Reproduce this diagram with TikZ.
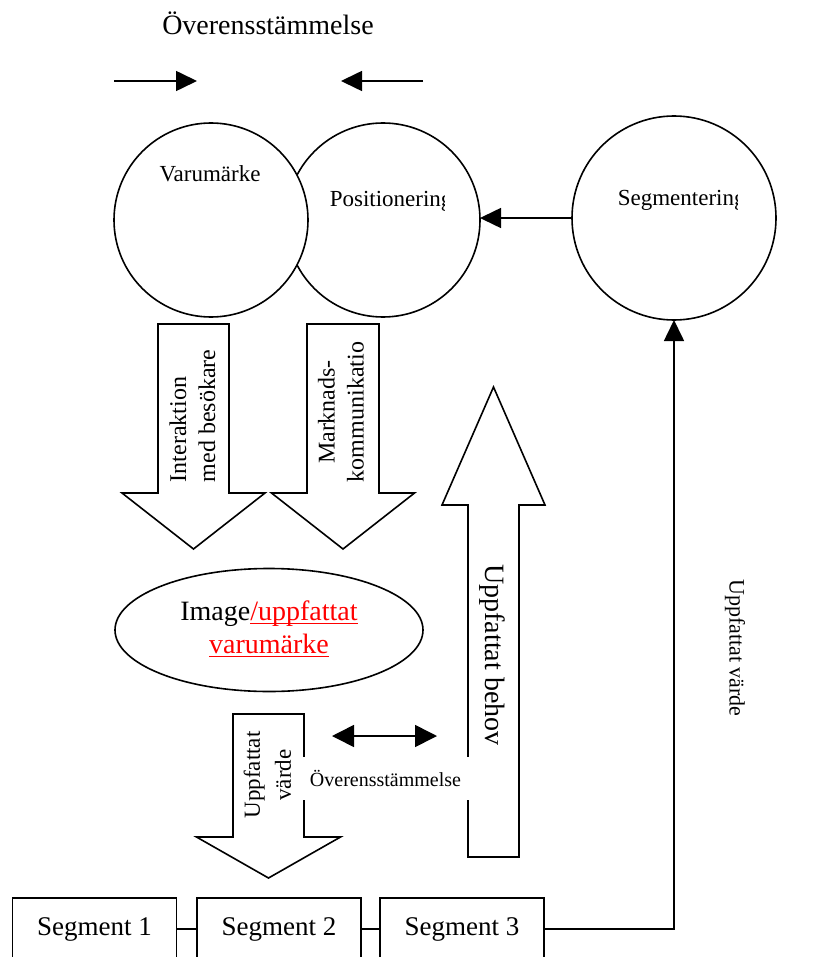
\documentclass[tikz,border=0pt]{standalone}
\usepackage{fontspec}
\setmainfont{Liberation Serif}
\usetikzlibrary{arrows.meta,shapes.geometric}
\newcommand\redul[1]{\textcolor{red}{\underline{\smash{#1}}}}
\tikzset{
  every picture/.style={line width=0.8pt},
  headed/.style={-{Triangle[length=10.5pt,width=10pt]}},
  circ/.style={draw,circle,inner sep=0pt,outer sep=0pt,minimum size=#1},
  fatarrow/.style={draw,line join=miter},
  segbox/.style={draw,fill=white,minimum width=82pt,minimum height=31pt,inner sep=0pt,outer sep=0pt,font=\fontsize{13.5}{16}\selectfont},
  uptext/.style={rotate=90,font=\fontsize{12}{14.5}\selectfont},
  downtext/.style={rotate=-90},
  circtext/.style={font=\fontsize{11.5}{14}\selectfont},
}

\begin{document}
\begin{tikzpicture}[x=0.5pt,y=-0.5pt]
\fill[white] (0,0) rectangle (820,957);
\clip (0,0) rectangle (820,957);
\node[font=\fontsize{14}{17}\selectfont] (agree) at (268,23) {Överensstämmelse};
\coordinate (l1) at (114,81);
\coordinate (l2) at (197,81);
\coordinate (r1) at (423,81);
\coordinate (r2) at (341,81);
\draw[headed] (l1) -- (l2);
\draw[headed] (r1) -- (r2);

\node[circ=97pt] (posit) at (383,220) {};
\node[circ=97pt,fill=white] (brand) at (211,220) {};
\node[circ=102pt] (segm) at (674,218) {};
\node[circtext] (brandtext) at (210,174) {Varumärke};
\begin{scope}
  \clip (320,185) rectangle (444,222);
  \node[circtext,anchor=west,inner sep=0pt] (posittext) at (329,201) {Positionering};
\end{scope}
\begin{scope}
  \clip (610,185) rectangle (737,222);
  \node[circtext,anchor=west,inner sep=0pt] (segmtext) at (617,200) {Segmentering};
\end{scope}
\draw[headed] (segm.west) -- (segm.west -| posit.east);

\foreach \cx/\ytail/\ybase/\ytip/\hs/\hh in {193.5/324/493/549/35.5/71.5, 343/324/493/549/36/71.5, 268.5/714/837/878/35.5/72, 493.5/857/505/387/25.5/51.5}
  \draw[fatarrow] (\cx-\hs,\ytail) -- (\cx-\hs,\ybase) -- (\cx-\hh,\ybase) -- (\cx,\ytip) -- (\cx+\hh,\ybase) -- (\cx+\hs,\ybase) -- (\cx+\hs,\ytail) -- cycle;
\node[uptext,align=left] (interact) at (192.5,416) {Interaktion\\med besökare};
\node[uptext,align=center] (market) at (341,412) {Marknads-\\kommunikatio};

\node[draw,ellipse,minimum width=154pt,minimum height=61.5pt,inner sep=0pt,align=center,font=\fontsize{14}{16.5}\selectfont] (image) at (269,630) {Image\redul{/uppfattat}\\\redul{varumärke}};

\node[uptext,font=\fontsize{11.5}{15.5}\selectfont,align=center] (valuetext) at (267.5,775) {Uppfattat\\värde};
\node[downtext,font=\fontsize{14}{17}\selectfont] (needtext) at (492,655) {Uppfattat behov};
\node[fill=white,minimum width=85.5pt,minimum height=21.5pt,inner sep=0pt,font=\fontsize{10}{12}\selectfont] (match) at (385.5,778.5) {Överensstämmelse};
\coordinate (d1) at (332,736);
\coordinate (d2) at (437,736);
\draw[{Triangle[length=11pt,width=11pt]}-{Triangle[length=11pt,width=11pt]}] (d1) -- (d2);

\foreach \i/\x in {1/94.5,2/279,3/462}
  \node[segbox] (seg\i) at (\x,929) {Segment \i};
\draw (seg1) -- (seg2) (seg2) -- (seg3);
\draw[headed] (seg3.east) -| (segm.south);
\node[downtext,font=\fontsize{11}{13}\selectfont] (valueright) at (735,648) {Uppfattat värde};
\end{tikzpicture}
\end{document}
